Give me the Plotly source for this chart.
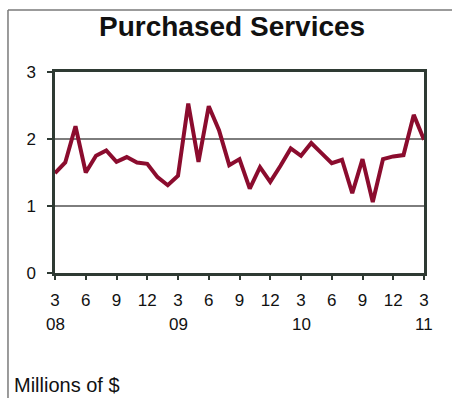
import plotly.graph_objects as go

# Monthly purchased-services spending, March 2008 through March 2011 (millions of $)
month_index = list(range(37))
spending = [
    1.49, 1.65, 2.19, 1.50, 1.75, 1.83, 1.66, 1.73, 1.65, 1.63, 1.43, 1.31,
    1.45, 2.53, 1.66, 2.49, 2.13, 1.61, 1.70, 1.26, 1.58, 1.36, 1.60, 1.86,
    1.75, 1.94, 1.79, 1.64, 1.69, 1.19, 1.70, 1.06, 1.70, 1.74, 1.76, 2.36,
    1.99,
]
tick_positions = list(range(0, 37, 3))
tick_labels = ["3", "6", "9", "12"] * 3 + ["3"]
year_positions = [0, 12, 24, 36]
year_labels = ["08", "09", "10", "11"]

FONT = "Liberation Sans, Arial, Helvetica, sans-serif"
AXIS = "#2e3a33"
FRAME = "#7a7a7a"

fig = go.Figure()
fig.add_trace(go.Scatter(
    x=month_index, y=spending, mode="lines",
    line=dict(color="#8b0c2e", width=4),
    hoverinfo="skip", showlegend=False,
))

fig.update_xaxes(
    range=[0, 36], tickvals=tick_positions, ticktext=tick_labels,
    showline=True, linecolor=AXIS, linewidth=2.5, mirror=True,
    ticks="outside", ticklen=4, tickwidth=1.5, tickcolor=AXIS,
    showgrid=False, zeroline=False,
    tickfont=dict(family=FONT, size=17, color="#111"),
    ticklabelstandoff=6,
)
fig.update_yaxes(
    range=[0, 3], tickvals=[0, 1, 2, 3],
    showline=True, linecolor=AXIS, linewidth=2.5, mirror=True,
    ticks="outside", ticklen=5, tickwidth=1.5, tickcolor=AXIS,
    showgrid=True, gridcolor="#7d7d7d", gridwidth=1.5, zeroline=False,
    tickfont=dict(family=FONT, size=17, color="#111"),
    ticklabelstandoff=8,
)

annotations = [
    dict(text="<b>Purchased Services</b>", xref="paper", yref="paper",
         x=0.481, y=1.225, xanchor="center", yanchor="middle", showarrow=False,
         font=dict(family=FONT, size=28, color="#111")),
    dict(text="Millions of $", xref="paper", yref="paper",
         x=-0.117, y=-0.6219, xanchor="left", yanchor="bottom", showarrow=False,
         font=dict(family=FONT, size=20, color="#111")),
]
for pos, lab in zip(year_positions, year_labels):
    annotations.append(dict(
        text=lab, xref="x", yref="paper", x=pos, y=-0.2587,
        xanchor="center", yanchor="middle", showarrow=False,
        font=dict(family=FONT, size=17, color="#111"),
    ))

# Outer frame: left and top edges of the panel
shapes = [
    dict(type="line", xref="paper", yref="paper", x0=-0.1274, x1=-0.1274,
         y0=1.3085, y1=-0.63, line=dict(color=FRAME, width=1.5)),
    dict(type="line", xref="paper", yref="paper", x0=-0.1274, x1=1.08,
         y0=1.3085, y1=1.3085, line=dict(color=FRAME, width=1.5)),
]

fig.update_layout(
    width=452, height=398,
    margin=dict(l=55, r=28, t=72, b=125),
    paper_bgcolor="white", plot_bgcolor="white",
    annotations=annotations, shapes=shapes,
)

fig.write_html("out.html")
